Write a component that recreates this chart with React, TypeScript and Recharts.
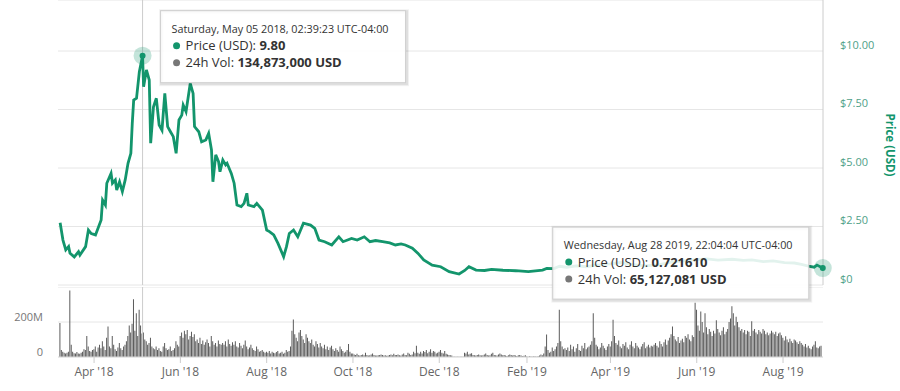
import React from 'react';
import { ComposedChart, BarChart, Line, Bar, XAxis, YAxis, CartesianGrid, ReferenceLine, ReferenceDot } from 'recharts';

// price points (USD)
const priceDates = [
  '2018-03-08', '2018-03-10', '2018-03-12', '2018-03-14', '2018-03-15', '2018-03-18', '2018-03-21', '2018-03-22',
  '2018-03-26', '2018-03-28', '2018-03-30', '2018-04-02', '2018-04-06', '2018-04-07', '2018-04-09', '2018-04-10',
  '2018-04-13', '2018-04-14', '2018-04-16', '2018-04-17', '2018-04-19', '2018-04-21', '2018-04-23', '2018-04-25',
  '2018-04-27', '2018-04-28', '2018-04-29', '2018-05-01', '2018-05-03', '2018-05-05T06:39:23Z', '2018-05-06', '2018-05-08',
  '2018-05-10', '2018-05-11', '2018-05-13', '2018-05-15', '2018-05-17', '2018-05-19', '2018-05-21', '2018-05-23',
  '2018-05-25', '2018-05-27', '2018-05-29', '2018-05-31', '2018-06-02', '2018-06-03', '2018-06-05', '2018-06-08',
  '2018-06-10', '2018-06-11', '2018-06-14', '2018-06-16', '2018-06-19', '2018-06-21', '2018-06-23', '2018-06-24',
  '2018-06-26', '2018-06-28', '2018-06-29', '2018-07-01', '2018-07-03', '2018-07-04', '2018-07-07', '2018-07-09',
  '2018-07-11', '2018-07-14', '2018-07-16', '2018-07-18', '2018-07-19', '2018-07-23', '2018-07-25', '2018-07-29',
  '2018-08-01', '2018-08-03', '2018-08-06', '2018-08-09', '2018-08-13', '2018-08-15', '2018-08-17', '2018-08-20',
  '2018-08-23', '2018-08-27', '2018-09-01', '2018-09-04', '2018-09-07', '2018-09-11', '2018-09-16', '2018-09-21',
  '2018-09-24', '2018-09-30', '2018-10-04', '2018-10-09', '2018-10-13', '2018-10-17', '2018-10-22', '2018-10-27',
  '2018-10-31', '2018-11-04', '2018-11-07', '2018-11-12', '2018-11-16', '2018-11-20', '2018-11-26', '2018-12-02',
  '2018-12-08', '2018-12-15', '2018-12-19', '2018-12-22', '2018-12-27', '2019-01-02', '2019-01-07', '2019-01-15',
  '2019-01-24', '2019-02-02', '2019-02-12', '2019-02-15', '2019-02-20', '2019-02-24', '2019-03-01',
  '2019-03-08', '2019-03-15', '2019-03-22', '2019-04-01', '2019-04-08', '2019-04-16', '2019-04-25', '2019-05-05',
  '2019-05-14', '2019-05-22', '2019-06-01', '2019-06-08', '2019-06-16', '2019-06-26', '2019-07-04', '2019-07-10',
  '2019-07-18', '2019-07-25', '2019-08-02', '2019-08-09', '2019-08-14', '2019-08-19', '2019-08-23', '2019-08-25',
  '2019-08-29T02:04:04Z',
];
const priceValues = [
  2.66, 1.92, 1.5, 1.64, 1.36, 1.2, 1.42, 1.28,
  1.64, 2.35, 2.2, 2.14, 2.78, 3.63, 3.42, 4.35,
  4.77, 4.35, 4.49, 4.06, 4.41, 3.99, 4.49, 5.2,
  5.63, 6.91, 7.9, 7.98, 9.11, 9.8, 8.47, 9.19,
  8.76, 6.06, 7.62, 7.98, 6.84, 6.62, 8.19, 6.77,
  6.55, 6.34, 5.63, 7.05, 7.26, 7.69, 7.41, 8.62,
  8.19, 6.77, 6.55, 6.12, 6.2, 6.48, 5.77, 4.41,
  5.56, 5.27, 4.84, 5.34, 5.13, 5.2, 4.77, 4.35,
  3.42, 3.35, 3.49, 3.92, 3.42, 3.35, 3.49, 3.2,
  2.35, 2.28, 2.14, 1.78, 1.21, 1.64, 2.2, 2.35,
  2.06, 2.64, 2.56, 2.42, 1.92, 1.85, 1.71, 2.06,
  1.85, 1.99, 1.92, 2.06, 1.85, 1.9, 1.85, 1.8,
  1.71, 1.76, 1.71, 1.57, 1.35, 1.07, 0.85, 0.78,
  0.57, 0.47, 0.62, 0.78, 0.64, 0.62, 0.67, 0.63,
  0.61, 0.57, 0.64, 0.71, 0.7, 0.8, 0.76,
  0.82, 0.78, 0.85, 0.9, 0.96, 0.88, 0.82, 0.86,
  0.98, 1.02, 1.08, 1.12, 1.06, 1.1, 1.05, 1.07,
  1.0, 1.03, 0.96, 0.94, 0.88, 0.81, 0.76, 0.85,
  0.7216,
];

// daily 24h volume, millions USD, from 2018-03-08
const volumeStart = '2018-03-08';
const volMar18 = [195, 40, 30, 25, 20, 25, 30, 380, 70, 30, 22, 20, 28, 20, 18, 25, 30, 45, 40, 120, 60, 35, 30, 40];
const volApr18 = [45, 60, 30, 55, 70, 50, 90, 60, 40, 110, 175, 60, 50, 120, 70, 45, 35, 55, 80, 50, 40, 60, 70, 90, 120, 180, 140, 190, 330, 150];
const volMay18 = [250, 120, 270, 180, 135, 140, 100, 90, 70, 80, 110, 60, 50, 45, 60, 40, 50, 35, 30, 60, 80, 50, 40, 45, 60, 35, 40, 50, 90, 70, 60];
const volJun18 = [120, 140, 110, 150, 130, 155, 100, 120, 145, 115, 130, 90, 100, 80, 110, 75, 95, 70, 85, 100, 80, 60, 120, 90, 70, 80, 60, 95, 75, 70];
const volJul18 = [80, 70, 90, 60, 100, 75, 65, 85, 70, 90, 60, 55, 80, 65, 50, 70, 95, 60, 45, 55, 70, 50, 40, 35, 60, 45, 30, 35, 40, 30, 25];
const volAug18 = [30, 25, 35, 20, 30, 25, 22, 28, 35, 20, 25, 30, 18, 25, 40, 30, 35, 60, 150, 215, 130, 110, 90, 140, 155, 120, 100, 80, 130, 110, 90];
const volSep18 = [80, 100, 70, 60, 90, 75, 55, 80, 60, 50, 70, 45, 60, 40, 55, 65, 45, 35, 50, 40, 30, 60, 45, 35, 25, 30, 40, 75, 30, 20];
const volOct18 = [20, 15, 12, 18, 10, 8, 12, 15, 10, 25, 12, 8, 10, 14, 20, 12, 9, 8, 10, 12, 15, 11, 8, 10, 7, 9, 12, 15, 10, 18, 12];
const volNov18 = [12, 15, 10, 8, 14, 20, 12, 10, 25, 18, 12, 15, 30, 22, 65, 25, 18, 30, 20, 35, 28, 40, 22, 30, 45, 25, 35, 30, 20, 25];
const volDec18 = [30, 40, 25, 20, 35, 18, 15, 12, 10, 8, 2, 2, 1, 2, 1, 2, 1, 2, 25, 20, 30, 15, 18, 22, 12, 10, 8, 12, 15, 10, 8];
const volJan19 = [10, 15, 20, 12, 8, 10, 18, 25, 12, 10, 8, 14, 20, 15, 10, 12, 8, 6, 10, 15, 12, 9, 11, 8, 6, 10, 12, 8, 5, 7, 10];
const volFeb19 = [3, 2, 4, 3, 2, 5, 3, 2, 4, 8, 15, 10, 20, 60, 128, 40, 25, 30, 55, 35, 45, 60, 80, 270, 90, 60, 45, 50];
const volMar19 = [40, 55, 35, 70, 45, 60, 30, 50, 75, 40, 35, 65, 50, 80, 45, 55, 60, 70, 90, 250, 110, 70, 60, 45, 55, 80, 65, 50, 40, 60, 75];
const volApr19 = [60, 90, 213, 120, 80, 70, 95, 60, 50, 75, 65, 85, 55, 45, 70, 90, 60, 50, 80, 65, 55, 45, 60, 75, 85, 50, 60, 70, 55, 65];
const volMay19 = [60, 70, 80, 65, 55, 90, 75, 60, 85, 100, 70, 95, 110, 130, 175, 120, 100, 90, 115, 80, 95, 105, 85, 120, 110, 130, 100, 90, 125, 115, 310];
const volJun19 = [270, 180, 150, 260, 200, 140, 250, 170, 130, 160, 145, 120, 150, 135, 210, 160, 140, 125, 150, 170, 130, 145, 160, 200, 220, 290, 250, 180, 230, 200];
const volJul19 = [170, 150, 160, 140, 155, 130, 150, 145, 120, 205, 150, 160, 140, 130, 155, 145, 135, 160, 150, 130, 140, 125, 135, 150, 140, 130, 145, 120, 135, 140, 125];
const volAug19 = [110, 95, 118, 100, 85, 105, 90, 80, 100, 95, 85, 75, 90, 80, 70, 60, 75, 55, 65, 50, 45, 60, 70, 90, 55, 50, 60, 65];

const monthTicks = ['2018-04-01', '2018-06-01', '2018-08-01', '2018-10-01', '2018-12-01', '2019-02-01', '2019-04-01', '2019-06-01', '2019-08-01'];
const priceTicks = [0, 2.5, 5, 7.5, 10];
const volumeTicks = [0, 200];

// the two hover boxes shown in the picture
const tipTimes = ['2018-05-05T06:39:23Z', '2019-08-29T02:04:04Z'];
const tipPrices = [9.8, 0.7216];
const tipDateText = ['Saturday, May 05 2018, 02:39:23 UTC-04:00', 'Wednesday, Aug 28 2019, 22:04:04 UTC-04:00'];
const tipPriceText = ['9.80', '0.721610'];
const tipVolText = ['134,873,000 USD', '65,127,081 USD'];

const GREEN = '#13956c';
const MONTHS = ['Jan', 'Feb', 'Mar', 'Apr', 'May', 'Jun', 'Jul', 'Aug', 'Sep', 'Oct', 'Nov', 'Dec'];
const DAY = 86400000;
const toTime = (s: string) => new Date(s).getTime();

const xDomain = [toTime('2018-03-06T12:00:00Z'), toTime('2019-08-29T06:00:00Z')];

const priceData = priceDates.map((d, i) => ({ t: toTime(d), price: priceValues[i] }));
const volumeValues = [
  ...volMar18, ...volApr18, ...volMay18, ...volJun18, ...volJul18, ...volAug18, ...volSep18, ...volOct18, ...volNov18,
  ...volDec18, ...volJan19, ...volFeb19, ...volMar19, ...volApr19, ...volMay19, ...volJun19, ...volJul19, ...volAug19,
];
const volumeData = volumeValues.map((v, i) => ({ t: toTime(volumeStart) + i * DAY, vol: v }));

const fmtMonth = (t: number) => {
  const d = new Date(t);
  return `${MONTHS[d.getUTCMonth()]} '${String(d.getUTCFullYear()).slice(2)}`;
};

const PriceTick = ({ x, y, payload }: any) => (
  <text x={x} y={y - 6} dy="0.35em" fill="#4f9f88" fontSize={11} textAnchor="start">
    {payload.value === 0 ? '$0' : '$' + payload.value.toFixed(2)}
  </text>
);

const VolTick = ({ x, y, payload }: any) => (
  <text x={x} y={y - 5} dy="0.35em" fill="#777" fontSize={11} textAnchor="end">
    {payload.value === 0 ? '0' : `${payload.value}M`}
  </text>
);

// marker + hover box; box offset relative to the marker
const TipShape = (i: number, boxDx: number, boxDy: number) => (props: any) => {
  const { cx, cy } = props;
  const bx = cx + boxDx;
  const by = cy + boxDy;
  const w = i === 0 ? 245 : 256;
  const h = 72;
  return (
    <g>
      <circle cx={cx} cy={cy} r={9} fill={GREEN} fillOpacity={0.25} />
      <circle cx={cx} cy={cy} r={3} fill={GREEN} />
      <rect x={bx + 1} y={by + 1} width={w} height={h} fill="none" stroke="#000" strokeOpacity={0.05} strokeWidth={5} />
      <rect x={bx + 1} y={by + 1} width={w} height={h} fill="none" stroke="#000" strokeOpacity={0.08} strokeWidth={3} />
      <rect x={bx} y={by} width={w} height={h} fill="#fff" fillOpacity={0.88} stroke="#cfcfcf" strokeWidth={1} />
      <text x={bx + 11} y={by + 22} fontSize={10.8} fill="#333">{tipDateText[i]}</text>
      <circle cx={bx + 16} cy={by + 35} r={3.5} fill={GREEN} />
      <text x={bx + 25} y={by + 39.5} fontSize={13} fill="#333">
        Price (USD): <tspan fontWeight="bold">{tipPriceText[i]}</tspan>
      </text>
      <circle cx={bx + 16} cy={by + 52} r={3.5} fill="#777" />
      <text x={bx + 25} y={by + 56.5} fontSize={13} fill="#333">
        24h Vol: <tspan fontWeight="bold">{tipVolText[i]}</tspan>
      </text>
    </g>
  );
};

export default function App() {
  const cross = toTime(tipTimes[0]);
  return (
    <div style={{ position: 'absolute', left: 0, top: 0, width: 900, height: 391, background: '#fff', overflow: 'hidden', fontFamily: "'Open Sans', sans-serif" }}>
      <div style={{ position: 'absolute', left: 0, top: 287, zIndex: 1 }}>
        <BarChart width={900} height={104} data={volumeData} margin={{ top: 0, right: 77, left: 0, bottom: 0 }}>
          <CartesianGrid vertical={false} stroke="#e6e6e6" />
          <XAxis dataKey="t" type="number" domain={xDomain} ticks={monthTicks.map(toTime)} tickFormatter={fmtMonth}
            height={34} tick={{ fill: '#666', fontSize: 12 }} tickLine={{ stroke: '#ccc' }} tickSize={6} tickMargin={4}
            axisLine={{ stroke: '#ddd' }} allowDataOverflow />
          <YAxis orientation="left" width={58} domain={[0, 400]} ticks={volumeTicks}
            tick={<VolTick />} tickLine={false} axisLine={false} tickMargin={9}
            label={() => (
              <text x={7} y={320} transform="rotate(-90 7 320)" textAnchor="middle" fontSize={11} fontWeight="bold" fill="#888">24h Vol</text>
            )} />
          <ReferenceLine x={cross} stroke="#ccc" />
          <Bar dataKey="vol" fill="#5b5b5b" barSize={1} isAnimationActive={false} />
        </BarChart>
      </div>
      <div style={{ position: 'absolute', left: 0, top: 0, zIndex: 2 }}>
        <ComposedChart width={900} height={305} data={priceData} margin={{ top: 0, right: 0, left: 58, bottom: 20 }}>
          <CartesianGrid vertical={false} stroke="#e6e6e6" />
          <XAxis dataKey="t" type="number" domain={xDomain} hide allowDataOverflow />
          <YAxis orientation="right" width={77} domain={[0, 12.18]} ticks={priceTicks} allowDataOverflow
            tick={<PriceTick />} tickLine={false} tickMargin={11} axisLine={{ stroke: '#ccc' }}
            label={() => (
              <text x={886} y={145} transform="rotate(90 886 145)" textAnchor="middle" fontSize={11.5} fontWeight="bold" fill={GREEN}>Price (USD)</text>
            )} />
          <ReferenceLine x={cross} stroke="#ccc" />
          <Line dataKey="price" type="linear" stroke={GREEN} strokeWidth={2.8} dot={false} activeDot={false} isAnimationActive={false} />
          <ReferenceDot x={toTime(tipTimes[0])} y={tipPrices[0]} shape={TipShape(0, 18, -45)} />
          <ReferenceDot x={toTime(tipTimes[1])} y={tipPrices[1]} shape={TipShape(1, -270, -41)} />
        </ComposedChart>
      </div>
    </div>
  );
}
